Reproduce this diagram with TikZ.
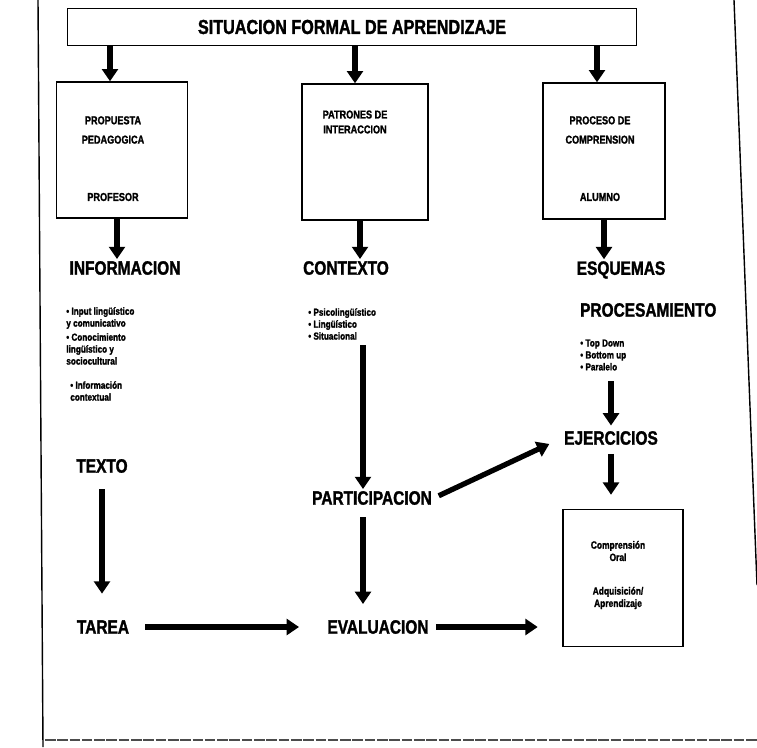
\documentclass[tikz,border=0pt]{standalone}
\usepackage{fontspec}
\setmainfont{Liberation Sans}[FakeStretch=0.8, BoldFeatures={FakeBold=1.5}]
\usetikzlibrary{arrows.meta,positioning,calc}
\tikzset{
  sitbox/.style={draw, thick, minimum width=11.38cm, minimum height=0.74cm,
                 font=\fontsize{11.5}{12}\selectfont\bfseries},
  rolebox/.style={draw, thick, minimum width=#1, minimum height=2.72cm},
  boxlbl/.style={font=\fontsize{6.5}{11}\selectfont\bfseries, align=center, inner sep=0pt},
  minilbl/.style={font=\fontsize{6}{7}\selectfont\bfseries, align=center, inner sep=0pt},
  heading/.style={font=\fontsize{11}{12}\selectfont\bfseries, inner sep=1pt},
  items/.style={font=\fontsize{5.8}{6.8}\selectfont\bfseries, align=left, anchor=west, inner sep=0pt},
  harrow/.style={line width=3pt, -{Triangle[width=9pt,length=7pt]}},
}
\begin{document}
\begin{tikzpicture}[x=0.02cm, y=-0.02cm]
\useasboundingbox (0,0) rectangle (757,747);
% page edges
\draw[thick] (38,0) -- (43,747);
\draw[thick] (734,0) -- (757,585);
\draw[semithick, black!70, dash pattern=on 6pt off 1pt] (45,740) -- (757,740);

% Top: the formal situation
\node[sitbox] (sit) at (352,27) {SITUACION FORMAL DE APRENDIZAJE};

% Row 1: three boxes
\node[rolebox=2.62cm] (prop) at (122,150) {};
\node[rolebox=2.52cm] (patr) at (365,152) {};
\node[rolebox=2.44cm] (proc) at (604,151) {};
\node[boxlbl] (propt) at (113,130) {PROPUESTA\\PEDAGOGICA};
\node[boxlbl] (profe) at (113,197) {PROFESOR};
\node[boxlbl, font=\fontsize{6.5}{8.5}\selectfont\bfseries] (patrt) at (355,122) {PATRONES DE\\INTERACCION};
\node[boxlbl] (proct) at (600,130) {PROCESO DE\\COMPRENSION};
\node[boxlbl] (alum) at (600,197) {ALUMNO};

\foreach \b/\s in {prop/-12,patr/-10,proc/-7}
  \draw[harrow] ([xshift=\s*0.02cm]\b.north |- sit.south) -- ([xshift=\s*0.02cm]\b.north);

% Column 1: informacion
\node[heading] (info) at (125,268) {INFORMACION};
\node[items] (inp) at (66,318) {• Input lingüístico\\y comunicativo};
\node[items] (cono) at (66,349) {• Conocimiento\\lingüístico y\\sociocultural};
\node[items] (infc) at (70,391) {• Información\\contextual};
\node[heading] (texto) at (102,466) {TEXTO};
\node[heading] (tarea) at (103,627) {TAREA};

% Column 2: contexto
\node[heading] (ctx) at (346,268) {CONTEXTO};
\node[items] (psico) at (308,324) {• Psicolingüístico\\• Lingüístico\\• Situacional};
\node[heading] (partic) at (372,498) {PARTICIPACION};
\node[heading] (evalu) at (378,627) {EVALUACION};

% Column 3: esquemas
\node[heading] (esq) at (621,270) {ESQUEMAS};
\node[heading, anchor=west] (procm) at (578,310) {PROCESAMIENTO};
\node[items] (topd) at (580,355) {• Top Down\\• Bottom up\\• Paralelo};
\node[heading] (ejer) at (611,438) {EJERCICIOS};
\node[rolebox=2.4cm, minimum height=2.74cm] (compr) at (623,578) {};
\node[minilbl] (oral) at (618,551) {Comprensión\\Oral};
\node[minilbl] (adq) at (618,598) {Adquisición/\\Aprendizaje};

% connectors
\draw[harrow] ([xshift=-0.1cm]prop.south) -- ([xshift=-0.1cm]prop.south |- info.north);
\draw[harrow] ([xshift=-0.1cm]patr.south) -- ([xshift=-0.1cm]patr.south |- ctx.north);
\draw[harrow] (proc.south) -- (proc.south |- esq.north);
\draw[harrow, shorten <=3pt] ([xshift=-0.18cm]partic.north |- psico.south) -- ([xshift=-0.18cm]partic.north);
\draw[harrow, shorten <=6pt, shorten >=8pt] ([xshift=-0.18cm]partic.south) -- ([xshift=-0.18cm]partic.south |- evalu.north);
\draw[harrow, shorten <=8pt, shorten >=14pt] (texto.south) -- (texto.south |- tarea.north);
\draw[harrow, shorten <=6pt, shorten >=2pt] (topd.south -| ejer.north) -- (ejer.north);
\draw[harrow, shorten <=4pt, shorten >=8pt] (ejer.south) -- (ejer.south |- compr.north);
\draw[harrow, shorten <=3pt, shorten >=8pt] (partic.east) -- (ejer.west);
\draw[harrow, shorten <=8pt, shorten >=15pt] (tarea.east) -- (evalu.west);
\draw[harrow, shorten <=3pt, shorten >=14pt] (evalu.east) -- (evalu.east -| compr.west);
\end{tikzpicture}
\end{document}
